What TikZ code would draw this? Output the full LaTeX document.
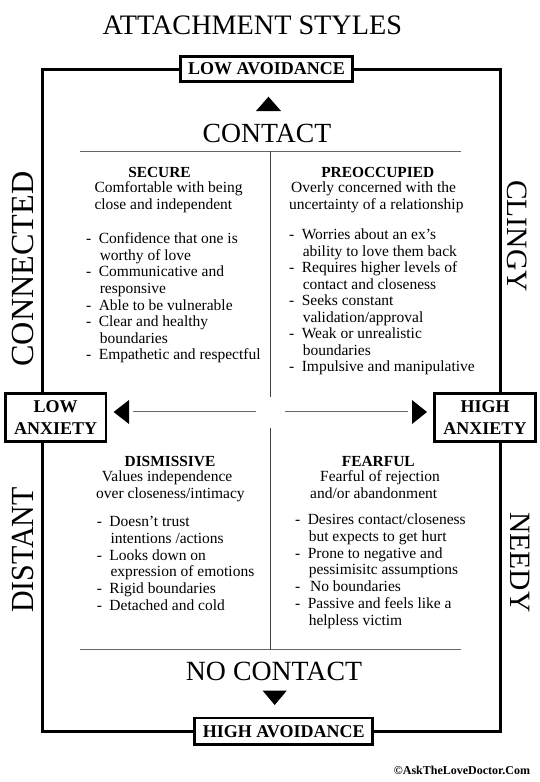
\documentclass[tikz,border=0pt]{standalone}
\usepackage{fontspec}
\setmainfont{Liberation Serif}
\newcommand{\qb}{\makebox[12.6pt][l]{-}}
\newcommand{\qi}{\hspace*{13.6pt}}
\begin{document}
\begin{tikzpicture}[x=1pt,y=-1pt,
  frame/.style={line width=3pt, line join=miter},
  gridline/.style={line width=0.9pt, draw=black!60},
  vline/.style={line width=0.9pt, draw=black!75},
  tri/.style={fill=black},
  titletext/.style={inner sep=0, anchor=base, font=\fontsize{28.2}{30}\selectfont},
  bigtext/.style={inner sep=0, anchor=base, font=\fontsize{27.7}{30}\selectfont},
  boxlab/.style={draw, line width=2.6pt, fill=white, inner sep=0, align=center,
    font=\bfseries\fontsize{18}{21.4}\selectfont},
  sidelab/.style={inner sep=0, anchor=center},
  head/.style={inner sep=0, anchor=base, font=\bfseries\fontsize{15.4}{17}\selectfont},
  desc/.style={inner sep=0, anchor=base, font=\fontsize{15.5}{17}\selectfont},
  descw/.style={desc, anchor=base west},
  bline/.style={inner sep=0, anchor=base west, font=\fontsize{15.5}{17}\selectfont},
  credit/.style={inner sep=0, anchor=base, font=\bfseries\fontsize{12}{14}\selectfont}
]
\useasboundingbox (0,0) rectangle (540,782);
\fill[white] (0,0) rectangle (540,782);

% title
\node[titletext] (title) at (252.3,34) {ATTACHMENT STYLES};

% outer frame
\draw[frame] (42,69) rectangle (500,731);

% axis boxes
\node[boxlab, minimum width=172.4pt, minimum height=25.4pt] (lowav) at (266.5,69) {LOW AVOIDANCE};
\node[boxlab, minimum width=178pt, minimum height=26.7pt] (highav) at (283.7,731.4) {HIGH AVOIDANCE};
\node[boxlab, minimum width=100.8pt, minimum height=48.4pt] (lowanx) at (55.7,417.5) {LOW\\ANXIETY};
\node[boxlab, minimum width=101.4pt, minimum height=48.4pt] (highanx) at (485,417.5) {HIGH\\ANXIETY};

% contact labels and triangles
\node[bigtext] (contact) at (267,142.7) {CONTACT};
\node[inner sep=0, anchor=base, font=\fontsize{27.8}{30}\selectfont] (nocontact) at (274,680.7) {NO CONTACT};
\fill[tri] (256,111) -- (281,111) -- (268.5,96.7) -- cycle;
\fill[tri] (262.7,690.7) -- (286.7,690.7) -- (274.7,705) -- cycle;
\fill[tri] (113.6,412) -- (129,400) -- (129,424) -- cycle;
\fill[tri] (427,412) -- (412,400) -- (412,424) -- cycle;

% grid lines
\coordinate (tl) at (80,151);
\coordinate (tr) at (461,151);
\coordinate (bl) at (80,649.5);
\coordinate (br) at (461,649.5);
\coordinate (vt) at (270.7,151);
\coordinate (vgt) at (270.7,397);
\coordinate (vgb) at (270.7,428);
\coordinate (vb) at (270.7,649.5);
\coordinate (hl1) at (133.3,411.7);
\coordinate (hl2) at (255.5,411.7);
\coordinate (hr1) at (285,411.7);
\coordinate (hr2) at (408,411.7);
\draw[gridline] (tl) -- (tr);
\draw[gridline] (bl) -- (br);
\draw[vline] (vt) -- (vgt);
\draw[vline] (vgb) -- (vb);
\draw[gridline] (hl1) -- (hl2);
\draw[gridline] (hr1) -- (hr2);

% side labels
\node[sidelab, rotate=90, font=\fontsize{32.2}{34}\selectfont] (connected) at (22.5,269) {CONNECTED};
\node[sidelab, rotate=90, xscale=0.93, font=\fontsize{32.2}{34}\selectfont] (distant) at (22.5,550) {DISTANT};
\node[sidelab, rotate=-90, font=\fontsize{29.5}{32}\selectfont] (clingy) at (516.7,236) {CLINGY};
\node[sidelab, rotate=-90, font=\fontsize{29.5}{32}\selectfont] (needy) at (520,562.5) {NEEDY};

% SECURE
\node[head] (sechead) at (159.5,177) {SECURE};
\node[descw] (secd1) at (94.3,192.5) {Comfortable with being};
\node[descw] (secd2) at (94.3,209.5) {close and independent};
\foreach \t [count=\i from 0] in {\qb Confidence that one is, \qi worthy of love, \qb Communicative and, \qi responsive, \qb Able to be vulnerable, \qb Clear and healthy, \qi boundaries, \qb Empathetic and respectful}
  \node[bline] (sec\i) at ({86},{243.5+16.64*\i}) {\t};

% PREOCCUPIED
\node[head] (prehead) at (377.8,177) {PREOCCUPIED};
\node[descw] (pred1) at (291,192.5) {Overly concerned with the};
\node[descw] (pred2) at (289,209.5) {uncertainty of a relationship};
\foreach \t [count=\i from 0] in {\qb Worries about an ex’s, \qi ability to love them back, \qb Requires higher levels of, \qi contact and closeness, \qb Seeks constant, \qi validation/approval, \qb Weak or unrealistic, \qi boundaries, \qb Impulsive and manipulative}
  \node[bline] (pre\i) at ({289},{239.5+16.5*\i}) {\t};

% DISMISSIVE
\node[head] (dishead) at (170,466.7) {DISMISSIVE};
\node[descw] (disd1) at (101.7,481.8) {Values independence};
\node[descw] (disd2) at (96,498.5) {over closeness/intimacy};
\foreach \t [count=\i from 0] in {\qb Doesn’t trust, \qi intentions /actions, \qb Looks down on, \qi expression of emotions, \qb Rigid boundaries, \qb Detached and cold}
  \node[bline] (dis\i) at ({96.7},{526.8+16.7*\i}) {\t};

% FEARFUL
\node[head] (fearhead) at (378.3,466.7) {FEARFUL};
\node[descw] (feard1) at (320,481.8) {Fearful of rejection};
\node[descw] (feard2) at (310,498.5) {and/or abandonment};
\foreach \t [count=\i from 0] in {\qb Desires contact/closeness, \qi but expects to get hurt, \qb Prone to negative and, \qi pessimisitc assumptions, \qb\hspace*{2.3pt}No boundaries, \qb Passive and feels like a, \qi helpless victim}
  \node[bline] (fear\i) at ({295},{524.2+16.93*\i}) {\t};

% credit
\node[credit] (credit) at (462,774) {©AskTheLoveDoctor.Com};
\end{tikzpicture}
\end{document}
